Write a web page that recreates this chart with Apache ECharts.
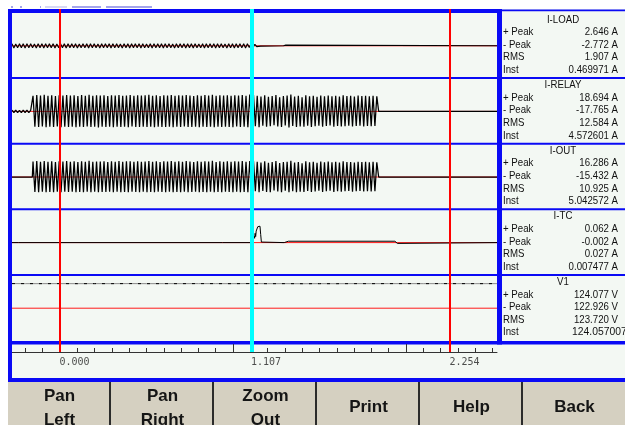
<!DOCTYPE html>
<html><head><meta charset="utf-8">
<script src="https://cdn.jsdelivr.net/npm/echarts@6/dist/echarts.min.js"></script>
<style>html,body{margin:0;padding:0;background:#ffffff;}#c{width:625px;height:425px;}</style>
</head><body><div id="c"></div>
<script>
// ===================== DATA =====================
const cursorTimes = [0.000, 1.107, 2.254];
const minorTicks = [-0.2,-0.1,0,0.1,0.2,0.3,0.4,0.5,0.6,0.7,0.8,0.9,1.0,1.1,1.2,1.3,1.4,1.5,1.6,1.7,1.8,1.9,2.0,2.1,2.2,2.3,2.4,2.5];
const majorTicks = [0, 1, 2];

const channelNames = ['I-LOAD','I-RELAY','I-OUT','I-TC','V1'];
const channelUnits = ['A','A','A','A','V'];
const posPeak = [2.646, 18.694, 16.286, 0.062, 124.077];
const negPeak = [-2.772, -17.765, -15.432, -0.002, 122.926];
const rmsVals = [1.907, 12.584, 10.925, 0.027, 123.720];
const instVals = [0.469971, 4.572601, 5.042572, 0.007477, 124.057007];
const rowLabels = ['+ Peak', '- Peak', 'RMS', 'Inst'];
const buttonLabels = ['Pan\nLeft', 'Pan\nRight', 'Zoom\nOut', 'Print', 'Help', 'Back'];

const recordStart = -0.2775;
const recordEnd = 2.526;
const halfCycle = 0.0108;   // sample spacing of the peak arrays

// I-LOAD: half-cycle peaks from record start
const loadRipple = [
 2.5,-2.6,2.3,-2.5,2.6,-2.4,2.4,-2.7,2.5,-2.5,
 2.6,-2.4,2.3,-2.6,2.5,-2.5,2.4,-2.6,2.6,-2.3,
 2.4,-2.5,2.5,-2.7,2.3,-2.4,2.6,-2.5,2.4,-2.6,
 2.5,-2.4,2.6,-2.5,2.4,-2.6,2.3,-2.5,2.5,-2.4,
 2.6,-2.6,2.4,-2.5,2.5,-2.3,2.3,-2.6,2.6,-2.5,
 2.4,-2.4,2.5,-2.7,2.4,-2.5,2.6,-2.4,2.3,-2.6,
 2.5,-2.5,2.4,-2.6,2.6,-2.4,2.5,-2.5,2.4,-2.7,
 2.6,-2.5,2.3,-2.4,2.5,-2.6,2.4,-2.5,2.6,-2.3,
 2.5,-2.6,2.4,-2.5,2.6,-2.4,2.3,-2.6,2.5,-2.5,
 2.4,-2.4,2.6,-2.6,2.5,-2.5,2.4,-2.7,2.5,-2.4,
 2.3,-2.5,2.6,-2.6,2.4,-2.4,2.5,-2.5,2.6,-2.6,
 2.4,-2.5,2.5,-2.4,2.3,-2.6,2.6,-2.5,2.4,-2.6,
 2.5,-2.4,2.6,-2.5,2.4,-2.6,2.6,
 -2.2,2.8,-1.5,1.8,-1.0,0.9,-0.4
];
const loadTail = [[1.170,0],[1.292,0],[1.296,1.6],[1.300,2.4],[1.305,0.8],[1.312,0],[2.526,0]];

// I-RELAY
const relayLeadIn = [1.3,-1.2,1.4,-1.3,1.2,-1.4,1.3,-1.2,1.4,-1.3,1.2];
const burstStart = -0.156;
const relayBurst = [
 17.2,-16.8,17.9,-17.1,17.5,-16.6,18.1,-17.3,17.0,-16.9,
 17.6,-17.2,16.9,-16.5,17.8,-17.4,17.3,-16.8,18.0,-17.0,
 17.4,-16.7,17.7,-17.3,16.8,-16.9,17.9,-17.1,17.2,-16.6,
 18.2,-17.2,17.1,-16.8,17.6,-17.5,17.3,-16.9,17.8,-17.0,
 16.9,-16.7,17.7,-17.3,17.4,-16.8,18.0,-17.1,17.2,-16.9,
 17.5,-17.4,17.9,-16.6,17.0,-17.0,17.8,-17.2,17.3,-16.8,
 17.6,-17.1,18.1,-16.9,17.2,-17.3,17.7,-16.7,16.9,-17.0,
 17.8,-17.2,17.4,-16.8,17.9,-17.4,17.1,-16.9,17.6,-17.1,
 17.3,-16.6,18.0,-17.2,17.5,-17.0,16.8,-16.8,17.7,-17.3,
 17.2,-16.9,17.9,-17.1,17.4,-16.7,18.2,-17.4,17.0,-16.9,
 17.6,-17.2,17.3,-16.8,17.8,-17.0,17.1,-17.3,17.7,-16.6,
 17.5,-17.1,18.0,-16.9,17.2,-17.4,18.6,
 -17.0,18.3,-16.2,17.1,-17.4,16.4,-15.8,17.6,-16.9,15.9,
 -16.3,16.8,-15.1,17.9,-16.4,15.6,-17.2,16.9,-15.5,17.3,
 -17.7,18.4,-15.9,16.2,-17.1,17.0,-16.6,15.4,-16.8,17.7,
 -15.7,16.5,-17.0,17.2,-16.3,16.1,-15.6,17.5,-16.9,16.7,
 -16.0,17.4,-15.4,16.6,-16.8,17.1,-15.9,16.3,-16.5,17.6,
 -16.2,16.9,-15.8,17.0,-16.6,16.4,-16.1,17.3,-15.7,16.8,
 -16.4,17.1,-16.0,16.6,-16.3,17.2,-15.9,16.5
];
const relayTail = [[1.842,0],[1.950,0],[1.953,-1.2],[1.957,0],[2.526,0]];

// I-OUT
const outLeadIn = [[-0.2775,0],[-0.160,0]];
const outBurst = [
 15.6,-15.0,16.0,-15.2,15.4,-14.8,16.1,-15.3,15.2,-15.1,
 15.8,-15.2,15.1,-14.7,15.9,-15.4,15.5,-14.9,16.0,-15.0,
 15.4,-14.8,15.7,-15.3,15.0,-15.1,15.9,-15.2,15.3,-14.7,
 16.2,-15.2,15.2,-14.9,15.6,-15.4,15.5,-15.0,15.9,-15.1,
 15.1,-14.8,15.8,-15.3,15.4,-14.9,16.0,-15.2,15.3,-15.0,
 15.7,-15.4,15.9,-14.7,15.2,-15.1,15.8,-15.3,15.4,-14.9,
 15.6,-15.2,16.1,-15.0,15.3,-15.3,15.7,-14.8,15.0,-15.1,
 15.9,-15.2,15.5,-14.9,16.0,-15.4,15.2,-15.0,15.7,-15.2,
 15.4,-14.7,16.0,-15.3,15.6,-15.1,15.0,-14.9,15.8,-15.3,
 15.3,-15.0,15.9,-15.2,15.5,-14.8,16.2,-15.4,15.1,-15.0,
 15.7,-15.3,15.4,-14.9,15.9,-15.1,15.2,-15.3,15.8,-14.7,
 15.6,-15.2,16.0,-15.0,15.3,-15.3,16.1,
 -15.1,16.3,-14.4,15.2,-15.4,14.6,-14.0,15.7,-15.0,14.2,
 -15.2,15.0,-13.6,16.0,-14.6,14.0,-15.3,15.1,-13.9,15.4,
 -15.4,16.2,-14.2,14.5,-15.2,15.1,-14.8,13.8,-15.0,15.8,
 -14.0,14.7,-15.1,15.3,-14.5,14.4,-13.9,15.6,-15.0,14.9,
 -14.3,15.5,-13.8,14.8,-15.0,15.2,-14.2,14.5,-14.7,15.7,
 -14.4,15.0,-14.1,15.1,-14.8,14.6,-14.3,15.4,-14.0,15.0,
 -14.6,15.2,-14.3,14.8,-14.5,15.3,-14.2,14.7
];
const outTail = [[1.842,0],[2.526,0]];

// I-TC
const tcTrace = [[-0.2775,0],[-0.240,0],[-0.236,0.002],[-0.232,0],[0.940,0],[0.944,-0.002],[0.948,0],
 [1.112,0],[1.118,0.010],[1.122,0.024],[1.125,0.016],[1.128,0.034],[1.131,0.022],[1.134,0.042],
 [1.138,0.048],[1.143,0.058],[1.150,0.062],[1.156,0.060],[1.160,0.030],[1.164,0.002],[1.168,0],
 [1.296,0],[1.300,0.005],[1.320,0.005],[1.324,0.002],[1.328,0.005],[1.936,0.005],[1.940,0],
 [1.950,-0.003],[1.958,0],[2.526,0]];

// V1
const v1Trace = [[-0.2775,123.8],[-0.2,123.6],[-0.1,123.5],[0,123.7],[0.1,123.4],[0.2,123.6],[0.3,123.5],
 [0.4,123.8],[0.5,123.4],[0.6,123.6],[0.7,123.5],[0.8,123.7],[0.9,123.6],[1.0,123.4],[1.1,123.8],
 [1.2,123.3],[1.3,123.5],[1.4,123.2],[1.5,123.4],[1.6,123.3],[1.7,123.6],[1.8,123.5],[1.9,123.7],
 [2.0,123.6],[2.1,123.5],[2.2,123.7],[2.3,123.6],[2.4,123.5],[2.526,123.6]];

// ===================== LAYOUT / STYLE =====================
const PL = 12, PW = 485, PT = 13, PH = 65.6;
const yHalf = [40, 36, 33, 0.12, 165];
const traceWidth = [1.1, 1.25, 1.25, 1, 1];
const BLUE = '#0a0af5', BG = '#f3f8f3', BEIGE = '#d5d0c1';
const cursorColors = ['#ff0000', '#00ffff', '#ff0000'];
const cursorWidths = [2, 4, 2];
const infoFont = '"Liberation Sans", Arial, sans-serif';

function burst(start, vals) { return vals.map((v, i) => [start + i * halfCycle, v]); }

const traces = [
  burst(recordStart, loadRipple).concat(loadTail),
  burst(recordStart, relayLeadIn).concat(burst(burstStart, relayBurst), relayTail),
  outLeadIn.concat(burst(burstStart, outBurst), outTail),
  tcTrace,
  v1Trace
];

const grid = [], xAxis = [], yAxis = [], series = [];
for (let i = 0; i < 5; i++) {
  grid.push({ left: PL, top: PT + i * PH, width: PW, height: PH, show: false });
  xAxis.push({ type: 'value', gridIndex: i, min: recordStart, max: recordEnd, show: false });
  yAxis.push({ type: 'value', gridIndex: i, min: -yHalf[i], max: yHalf[i], show: false });
  series.push({ type: 'line', xAxisIndex: i, yAxisIndex: i, z: 1, symbol: 'none', silent: true,
    data: [[recordStart, 0], [recordEnd, 0]], lineStyle: { color: '#ff1a1a', width: 1 } });
}
for (let i = 0; i < 5; i++) {
  series.push({ type: 'line', xAxisIndex: i, yAxisIndex: i, z: 2, symbol: 'none', silent: true,
    sampling: null, data: traces[i],
    lineStyle: { color: i === 4 ? '#8c8c8c' : '#000000', width: traceWidth[i] } });
}
series.push({ type: 'line', xAxisIndex: 4, yAxisIndex: 4, z: 3, symbol: 'none', silent: true,
  data: v1Trace, lineStyle: { color: '#000000', width: 1, type: [3, 6] } });

// axis strip (grid 5)
grid.push({ left: PL, top: 344, width: PW, height: 8, show: false });
xAxis.push({ type: 'value', gridIndex: 5, min: recordStart, max: recordEnd, position: 'bottom',
  axisLine: { show: true, onZero: false, lineStyle: { color: '#333333', width: 1 } },
  axisTick: { show: true, inside: true, length: 4, customValues: minorTicks, lineStyle: { color: '#333333', width: 1 } },
  axisLabel: { show: false }, splitLine: { show: false } });
yAxis.push({ type: 'value', gridIndex: 5, min: 0, max: 1, show: false });
series.push({ type: 'line', xAxisIndex: 5, yAxisIndex: 5, symbol: 'none', silent: true,
  data: [[recordStart, 0]], lineStyle: { opacity: 0 },
  markLine: { silent: true, symbol: ['none', 'none'], label: { show: false }, animation: false,
    lineStyle: { color: '#333333', width: 1, type: 'solid' },
    data: majorTicks.map(t => ({ xAxis: t })) } });
series.push({ type: 'scatter', xAxisIndex: 5, yAxisIndex: 5, symbolSize: 1, silent: true, z: 12,
  itemStyle: { color: 'transparent' },
  data: cursorTimes.map(t => [t, 0]),
  label: { show: true, position: [0, 6], formatter: p => p.value[0].toFixed(3),
    fontFamily: '"DejaVu Sans Mono", monospace', fontSize: 10, color: '#222222' } });

// cursor overlay (grid 6)
grid.push({ left: PL, top: 9, width: PW, height: 343, show: false });
xAxis.push({ type: 'value', gridIndex: 6, min: recordStart, max: recordEnd, show: false });
yAxis.push({ type: 'value', gridIndex: 6, min: 0, max: 1, show: false });
series.push({ type: 'line', xAxisIndex: 6, yAxisIndex: 6, z: 10, symbol: 'none', silent: true,
  data: [[recordStart, 0]], lineStyle: { opacity: 0 },
  markLine: { silent: true, symbol: ['none', 'none'], label: { show: false }, animation: false, z: 10,
    data: cursorTimes.map((t, i) => ({ xAxis: t, lineStyle: { color: cursorColors[i], width: cursorWidths[i], type: 'solid' } })) } });

// ===================== GRAPHIC (frame, info panel, buttons) =====================
const g = [];
g.push({ type: 'rect', z: -5, shape: { x: 8, y: 9, width: 617, height: 373 }, style: { fill: BG } });
[[11,13],[20,22],[40,41],[72,101],[106,152]].forEach(s => g.push({ type: 'rect', z: 3, shape: { x: s[0], y: 6.5, width: s[1]-s[0], height: 1 }, style: { fill: '#4a4ad8' } }));
g.push({ type: 'rect', z: 3, shape: { x: 45, y: 6.5, width: 22, height: 1 }, style: { fill: '#b0b0e8' } });
g.push({ type: 'rect', z: 3, shape: { x: 8, y: 9, width: 489, height: 4 }, style: { fill: BLUE } });
g.push({ type: 'rect', z: 3, shape: { x: 497, y: 9.5, width: 128, height: 1.8 }, style: { fill: BLUE } });
g.push({ type: 'rect', z: 3, shape: { x: 8, y: 9, width: 4, height: 373 }, style: { fill: BLUE } });
g.push({ type: 'rect', z: 3, shape: { x: 497, y: 9, width: 5, height: 335.5 }, style: { fill: BLUE } });
for (let i = 1; i < 5; i++) {
  g.push({ type: 'rect', z: 3, shape: { x: 12, y: PT + i * PH - 1.5, width: 613, height: 2 }, style: { fill: BLUE } });
}
g.push({ type: 'rect', z: 3, shape: { x: 8, y: 341, width: 617, height: 3.5 }, style: { fill: BLUE } });
g.push({ type: 'rect', z: 3, shape: { x: 8, y: 378, width: 617, height: 4 }, style: { fill: BLUE } });

function fmtVal(v, dec, unit) { return v.toFixed(dec) + ' ' + unit; }
const NARROW = 0.84;
for (let i = 0; i < 5; i++) {
  const top = PT + i * PH;
  const font = { fontSize: 11.5, fontFamily: infoFont };
  g.push({ type: 'text', z: 4, x: 563, y: top + 6.5, scaleX: NARROW, style: Object.assign({ text: channelNames[i], fill: '#111', align: 'center', verticalAlign: 'middle' }, font) });
  const vals = [fmtVal(posPeak[i], 3, channelUnits[i]), fmtVal(negPeak[i], 3, channelUnits[i]),
                fmtVal(rmsVals[i], 3, channelUnits[i]), fmtVal(instVals[i], 6, channelUnits[i])];
  for (let r = 0; r < 4; r++) {
    const y = top + 19 + r * 12.6;
    g.push({ type: 'text', z: 4, x: 503, y: y, scaleX: NARROW, style: Object.assign({ text: rowLabels[r], fill: '#111', align: 'left', verticalAlign: 'middle' }, font) });
    const long = vals[r].length > 11;
    g.push({ type: 'text', z: 4, x: long ? 572 : 618, y: y, scaleX: long ? 0.9 : NARROW, style: Object.assign({ text: vals[r], fill: '#111', align: long ? 'left' : 'right', verticalAlign: 'middle' }, font) });
  }
}
g.push({ type: 'rect', z: 3, shape: { x: 8, y: 382, width: 617, height: 43 }, style: { fill: BEIGE } });
const btnW = 103, btnX0 = 7;
buttonLabels.forEach((lab, i) => {
  const x0 = btnX0 + i * btnW;
  if (i > 0) g.push({ type: 'rect', z: 4, shape: { x: x0 - 1, y: 382, width: 2, height: 43 }, style: { fill: '#2b2b2b' } });
  const lines = lab.split('\n');
  lines.forEach((ln, k) => {
    const cy = lines.length === 1 ? 407 : 396 + k * 24;
    g.push({ type: 'text', z: 5, x: x0 + btnW / 2 + 1, y: cy, style: { text: ln, fill: '#151515', align: 'center', verticalAlign: 'middle',
      fontSize: 17, fontWeight: 'bold', fontFamily: '"Liberation Sans", Arial, sans-serif' } });
  });
});

const chart = echarts.init(document.getElementById('c'), null, { renderer: 'canvas' });
chart.setOption({ animation: false, backgroundColor: '#ffffff', grid, xAxis, yAxis, series, graphic: g });
</script></body></html>
